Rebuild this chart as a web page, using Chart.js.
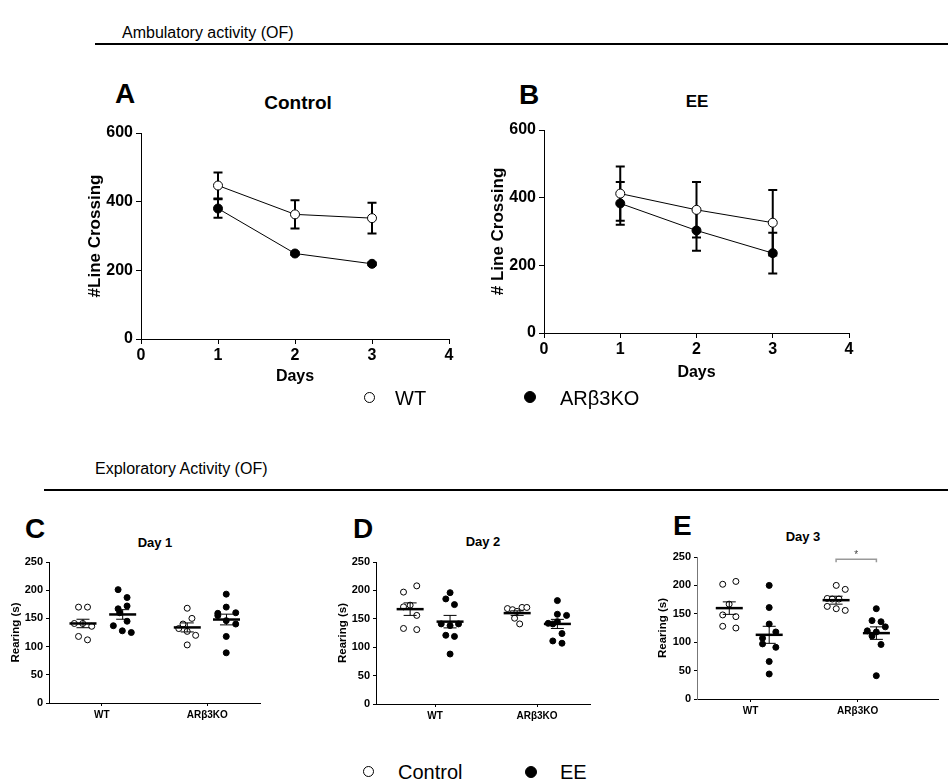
<!DOCTYPE html>
<html lang="en">
<head>
<meta charset="UTF-8">
<title>Ambulatory and exploratory activity (OF)</title>
<script src="https://cdn.jsdelivr.net/npm/chart.js"></script>
<style>
    body { margin: 0; background: #fff; font-family: Arial, "Liberation Sans", sans-serif; }
    #page { position: relative; width: 948px; height: 783px; overflow: hidden; }
    canvas { position: absolute; }
    .txt { position: absolute; line-height: 1; white-space: nowrap; color: #000; transform: translate(0, -50%); }
    .tc { transform: translate(-50%, -50%); }
    .b { font-weight: bold; }
    .rule { position: absolute; height: 2px; background: #000; }
    .dot { position: absolute; border-radius: 50%; border: 1.5px solid #000; box-sizing: border-box; background: #fff; }
    .dot.fill { background: #000; }
</style>
</head>
<body>
<div id="page">
    <!-- top block: ambulatory activity -->
    <div class="txt" style="left:122px;top:33px;font-size:16px">Ambulatory activity (OF)</div>
    <div class="rule" style="left:95px;top:43px;width:853px"></div>

    <div class="txt b" style="left:115px;top:94px;font-size:28px">A</div>
    <div class="txt b tc" style="left:298px;top:102px;font-size:19px">Control</div>
    <div class="txt b" style="left:519px;top:95px;font-size:28px">B</div>
    <div class="txt b tc" style="left:697px;top:101px;font-size:17px">EE</div>
    <canvas id="chartA"></canvas>
    <canvas id="chartB"></canvas>

    <div class="dot" style="left:364px;top:392px;width:11px;height:11px"></div>
    <div class="txt" style="left:395px;top:398px;font-size:20px">WT</div>
    <div class="dot fill" style="left:524px;top:391px;width:12px;height:12px"></div>
    <div class="txt" style="left:560px;top:398px;font-size:20px">ARβ3KO</div>

    <!-- bottom block: exploratory activity -->
    <div class="txt" style="left:95px;top:469px;font-size:16px">Exploratory Activity (OF)</div>
    <div class="rule" style="left:44px;top:489px;width:904px"></div>

    <div class="txt b" style="left:25px;top:529px;font-size:28px">C</div>
    <div class="txt b tc" style="left:155px;top:542px;font-size:13px">Day 1</div>
    <div class="txt b" style="left:353px;top:529px;font-size:28px">D</div>
    <div class="txt b tc" style="left:483px;top:541px;font-size:13px">Day 2</div>
    <div class="txt b" style="left:673px;top:526px;font-size:28px">E</div>
    <div class="txt b tc" style="left:803px;top:536px;font-size:13px">Day 3</div>
    <canvas id="chartC"></canvas>
    <canvas id="chartD"></canvas>
    <canvas id="chartE"></canvas>

    <div class="dot" style="left:363px;top:766px;width:11px;height:11px"></div>
    <div class="txt" style="left:398px;top:772px;font-size:20px">Control</div>
    <div class="dot fill" style="left:525px;top:766px;width:12px;height:12px"></div>
    <div class="txt" style="left:560px;top:772px;font-size:20px">EE</div>
</div>

<script>
    // ---- Ambulatory activity: line crossings per day (mean, SEM) ----
    var DAYS = [1, 2, 3];
    var CTRL_WT = [447, 363, 352];
    var CTRL_WT_SEM = [38, 41, 45];
    var CTRL_KO = [380, 249, 219];
    var CTRL_KO_SEM = [27, 4, 4];
    var EE_WT = [412, 364, 326];
    var EE_WT_SEM = [80, 82, 97];
    var EE_KO = [383, 303, 236];
    var EE_KO_SEM = [63, 60, 60];
    var CROSS_TICKS = [0, 200, 400, 600];

    // ---- Exploratory activity: rearing (s), one value per animal ----
    var GENOTYPES = ['WT', 'ARβ3KO'];
    var REAR_TICKS = [0, 50, 100, 150, 200, 250];

    // Day 1 (values + horizontal jitter from the genotype tick)
    var D1_WT_CTRL = [170, 170, 141, 141, 136, 118, 112];
    var D1_WT_CTRL_X = [-0.22, -0.135, -0.26, -0.18, -0.095, -0.22, -0.135];
    var D1_WT_EE = [201, 187, 172, 167, 160, 145, 137, 128, 125];
    var D1_WT_EE_X = [0.155, 0.24, 0.24, 0.155, 0.17, 0.24, 0.11, 0.195, 0.28];
    var D1_KO_CTRL = [168, 150, 140, 132, 127, 120, 103];
    var D1_KO_CTRL_X = [-0.19, -0.145, -0.23, -0.27, -0.19, -0.11, -0.19];
    var D1_KO_EE = [193, 170, 159, 160, 146, 140, 155, 118, 89];
    var D1_KO_EE_X = [0.18, 0.18, 0.10, 0.27, 0.18, 0.27, 0.10, 0.18, 0.18];
    var D1_MEAN = [141, 157, 134, 148];   // WT ctrl, WT EE, KO ctrl, KO EE
    var D1_SEM = [7.5, 8.5, 8, 9.5];

    // Day 2
    var D2_WT_CTRL = [208, 197, 171, 174, 156, 133, 131];
    var D2_WT_CTRL_X = [-0.18, -0.31, -0.31, -0.245, -0.18, -0.31, -0.18];
    var D2_WT_EE = [196, 185, 175, 141, 138, 141, 121, 119, 88];
    var D2_WT_EE_X = [0.147, 0.105, 0.19, 0.06, 0.147, 0.23, 0.105, 0.19, 0.147];
    var D2_KO_CTRL = [168, 166, 170, 170, 163, 151, 141];
    var D2_KO_CTRL_X = [-0.29, -0.24, -0.147, -0.10, -0.196, -0.22, -0.17];
    var D2_KO_EE = [182, 158, 156, 142, 141, 145, 124, 111, 107];
    var D2_KO_EE_X = [0.2, 0.2, 0.29, 0.11, 0.155, 0.2, 0.245, 0.155, 0.245];
    var D2_MEAN = [167, 145, 160, 141];
    var D2_SEM = [11, 11, 4, 8];

    // Day 3
    var D3_WT_CTRL = [202, 207, 167, 148, 145, 128, 125];
    var D3_WT_CTRL_X = [-0.26, -0.137, -0.2, -0.26, -0.137, -0.26, -0.137];
    var D3_WT_EE = [200, 161, 132, 118, 107, 97, 91, 66, 44];
    var D3_WT_EE_X = [0.174, 0.174, 0.174, 0.236, 0.112, 0.112, 0.236, 0.174, 0.174];
    var D3_KO_CTRL = [200, 193, 177, 176, 176, 163, 159, 156];
    var D3_KO_CTRL_X = [-0.2, -0.116, -0.284, -0.237, -0.175, -0.284, -0.2, -0.116];
    var D3_KO_EE = [159, 138, 136, 127, 120, 118, 111, 96, 41];
    var D3_KO_EE_X = [0.174, 0.134, 0.218, 0.258, 0.09, 0.174, 0.134, 0.218, 0.174];
    var D3_MEAN = [160, 113, 174, 116];
    var D3_SEM = [11, 15, 7, 11];
    var D3_SIG_PAIR = [2, 3];   // KO control vs KO EE
    var D3_SIG_LABEL = '*';

    Chart.defaults.font.family = 'Arial, "Liberation Sans", sans-serif';
    Chart.defaults.color = '#000';

    // error bars for the day curves, drawn under the markers
    var errorBars = {
        id: 'errorBars',
        beforeDatasetsDraw: function (chart, args, o) {
            var ctx = chart.ctx, ys = chart.scales.y;
            ctx.save();
            ctx.strokeStyle = '#000';
            ctx.lineWidth = o.width;
            chart.data.datasets.forEach(function (ds, i) {
                chart.getDatasetMeta(i).data.forEach(function (pt, j) {
                    var v = ds.data[j].y;
                    var top = ys.getPixelForValue(v + ds.sem[j]);
                    var bot = ys.getPixelForValue(v - ds.sem[j]);
                    ctx.beginPath();
                    ctx.moveTo(pt.x, top); ctx.lineTo(pt.x, bot);
                    ctx.moveTo(pt.x - o.cap, top); ctx.lineTo(pt.x + o.cap, top);
                    ctx.moveTo(pt.x - o.cap, bot); ctx.lineTo(pt.x + o.cap, bot);
                    ctx.stroke();
                });
            });
            ctx.restore();
        }
    };

    // mean line + SEM for each dot group, plus optional significance bracket
    var meanSem = {
        id: 'meanSem',
        afterDatasetsDraw: function (chart, args, o) {
            var ctx = chart.ctx, xs = chart.scales.x, ys = chart.scales.y;
            ctx.save();
            ctx.strokeStyle = '#000';
            chart.data.datasets.forEach(function (ds) {
                var cx = xs.getPixelForValue(ds.center);
                var m = ys.getPixelForValue(ds.mean);
                var hi = ys.getPixelForValue(ds.mean + ds.sem);
                var lo = ys.getPixelForValue(ds.mean - ds.sem);
                ctx.lineWidth = o.semWidth;
                ctx.beginPath();
                ctx.moveTo(cx, hi); ctx.lineTo(cx, lo);
                ctx.moveTo(cx - o.cap, hi); ctx.lineTo(cx + o.cap, hi);
                ctx.moveTo(cx - o.cap, lo); ctx.lineTo(cx + o.cap, lo);
                ctx.stroke();
                ctx.lineWidth = o.meanWidth;
                ctx.beginPath();
                ctx.moveTo(cx - o.half, m); ctx.lineTo(cx + o.half, m);
                ctx.stroke();
            });
            if (o.sig) {
                var a = chart.data.datasets[o.sig.pair[0]], b = chart.data.datasets[o.sig.pair[1]];
                var x1 = xs.getPixelForValue(a.center), x2 = xs.getPixelForValue(b.center);
                var y = ys.getPixelForValue(o.sig.y);
                ctx.strokeStyle = '#999';
                ctx.lineWidth = 1.5;
                ctx.beginPath();
                ctx.moveTo(x1, y + 3); ctx.lineTo(x1, y); ctx.lineTo(x2, y); ctx.lineTo(x2, y + 3);
                ctx.stroke();
                ctx.fillStyle = '#444';
                ctx.font = '10px Arial, "Liberation Sans", sans-serif';
                ctx.textAlign = 'center';
                ctx.textBaseline = 'alphabetic';
                ctx.fillText(o.sig.label, (x1 + x2) / 2, y - 1);
            }
            ctx.restore();
        }
    };

    // place a canvas on the page and work out paddings so the plot area lands on `area`
    function frame(id, box, area, yTitleX, yTitleSize, bottomY) {
        var cv = document.getElementById(id);
        cv.style.left = box[0] + 'px';
        cv.style.top = box[1] + 'px';
        cv.width = box[2];
        cv.height = box[3];
        var titleLeft = yTitleX - yTitleSize * 0.6;
        return {
            canvas: cv,
            padding: {
                left: titleLeft - box[0],
                top: area[1] - box[1],
                right: box[0] + box[2] - area[2],
                bottom: box[1] + box[3] - bottomY
            },
            yWidth: area[0] - titleLeft,
            xHeight: bottomY - area[3]
        };
    }

    function dayChart(f, wt, wtSem, ko, koSem, yTitle) {
        function set(label, vals, sem, fill, order) {
            return {
                label: label,
                data: DAYS.map(function (d, i) { return { x: d, y: vals[i] }; }),
                sem: sem,
                order: order,
                showLine: true,
                borderColor: '#000',
                borderWidth: 1,
                pointRadius: 4.5,
                pointBorderWidth: 1,
                pointBorderColor: '#000',
                pointBackgroundColor: fill
            };
        }
        return new Chart(f.canvas, {
            type: 'scatter',
            data: { datasets: [set('ARβ3KO', ko, koSem, '#000', 0), set('WT', wt, wtSem, '#fff', 1)] },
            options: {
                responsive: false,
                animation: false,
                devicePixelRatio: 1,
                events: [],
                layout: { padding: f.padding },
                plugins: { legend: { display: false }, tooltip: { enabled: false }, errorBars: { width: 2, cap: 4.5 } },
                scales: {
                    x: {
                        type: 'linear', min: 0, max: 4,
                        ticks: { stepSize: 1, font: { size: 16, weight: 'bold' }, padding: 2 },
                        grid: { drawOnChartArea: false, tickLength: 5, color: '#000' },
                        border: { color: '#000' },
                        title: { display: true, text: 'Days', font: { size: 16, weight: 'bold' }, padding: 0 },
                        afterFit: function (s) { s.height = f.xHeight; }
                    },
                    y: {
                        min: 0, max: 600,
                        afterBuildTicks: function (s) { s.ticks = CROSS_TICKS.map(function (v) { return { value: v }; }); },
                        ticks: { font: { size: 16, weight: 'bold' }, padding: 3 },
                        grid: { drawOnChartArea: false, tickLength: 5, color: '#000' },
                        border: { color: '#000' },
                        title: { display: true, text: yTitle, font: { size: 17, weight: 'bold' }, padding: 0 },
                        afterFit: function (s) { s.width = f.yWidth; }
                    }
                }
            },
            plugins: [errorBars]
        });
    }

    function group(vals, jitter, tick, mean, sem, fill) {
        var c = tick + jitter.reduce(function (a, b) { return a + b; }, 0) / jitter.length;
        return {
            data: vals.map(function (v, i) { return { x: tick + jitter[i], y: v }; }),
            center: c,
            mean: mean,
            sem: sem,
            pointRadius: 3,
            pointBorderWidth: 1,
            pointBorderColor: '#000',
            pointBackgroundColor: fill
        };
    }

    function rearChart(f, groups, means, sems, xRange, yAxisColor, sig) {
        var sets = groups.map(function (g, i) {
            return group(g[0], g[1], i < 2 ? 0 : 1, means[i], sems[i], i % 2 ? '#000' : '#fff');
        });
        return new Chart(f.canvas, {
            type: 'scatter',
            data: { datasets: sets },
            options: {
                responsive: false,
                animation: false,
                devicePixelRatio: 1,
                events: [],
                layout: { padding: f.padding },
                plugins: {
                    legend: { display: false }, tooltip: { enabled: false },
                    meanSem: { semWidth: 1, meanWidth: 2.5, cap: 6.5, half: 13.5, sig: sig }
                },
                scales: {
                    x: {
                        type: 'linear', min: xRange[0], max: xRange[1],
                        afterBuildTicks: function (s) { s.ticks = GENOTYPES.map(function (g, i) { return { value: i }; }); },
                        ticks: { callback: function (v) { return GENOTYPES[v]; }, autoSkip: false, maxRotation: 0, font: { size: 10, weight: 'bold' }, padding: 3 },
                        grid: { drawOnChartArea: false, tickLength: 3, color: '#000' },
                        border: { color: '#000' },
                        afterFit: function (s) { s.height = f.xHeight; }
                    },
                    y: {
                        min: 0, max: 250,
                        afterBuildTicks: function (s) { s.ticks = REAR_TICKS.map(function (v) { return { value: v }; }); },
                        ticks: { font: { size: 11, weight: 'bold' }, padding: 3 },
                        grid: { drawOnChartArea: false, tickLength: 3, color: '#000' },
                        border: { color: yAxisColor },
                        title: { display: true, text: 'Rearing (s)', font: { size: 11.5, weight: 'bold' }, padding: 0 },
                        afterFit: function (s) { s.width = f.yWidth; }
                    }
                }
            },
            plugins: [meanSem]
        });
    }

    dayChart(frame('chartA', [55, 108, 405, 292], [141, 133, 449, 339], 95, 17, 386.6),
        CTRL_WT, CTRL_WT_SEM, CTRL_KO, CTRL_KO_SEM, '#Line Crossing');
    dayChart(frame('chartB', [470, 108, 400, 292], [544, 130, 849, 333], 498.5, 17, 382),
        EE_WT, EE_WT_SEM, EE_KO, EE_KO_SEM, '# Line Crossing');

    rearChart(frame('chartC', [0, 548, 275, 185], [49, 562, 260, 703], 15.5, 11.5, 723),
        [[D1_WT_CTRL, D1_WT_CTRL_X], [D1_WT_EE, D1_WT_EE_X], [D1_KO_CTRL, D1_KO_CTRL_X], [D1_KO_EE, D1_KO_EE_X]],
        D1_MEAN, D1_SEM, [-0.5, 1.5], '#000', null);
    rearChart(frame('chartD', [320, 548, 290, 185], [376, 562, 590, 704], 342.5, 11.5, 724),
        [[D2_WT_CTRL, D2_WT_CTRL_X], [D2_WT_EE, D2_WT_EE_X], [D2_KO_CTRL, D2_KO_CTRL_X], [D2_KO_EE, D2_KO_EE_X]],
        D2_MEAN, D2_SEM, [-0.58, 1.52], '#000', null);
    rearChart(frame('chartE', [640, 540, 308, 193], [697, 557, 938, 699], 662.5, 11.5, 719),
        [[D3_WT_CTRL, D3_WT_CTRL_X], [D3_WT_EE, D3_WT_EE_X], [D3_KO_CTRL, D3_KO_CTRL_X], [D3_KO_EE, D3_KO_EE_X]],
        D3_MEAN, D3_SEM, [-0.5, 1.75], '#777', { pair: D3_SIG_PAIR, y: 246, label: D3_SIG_LABEL });
</script>
</body>
</html>
